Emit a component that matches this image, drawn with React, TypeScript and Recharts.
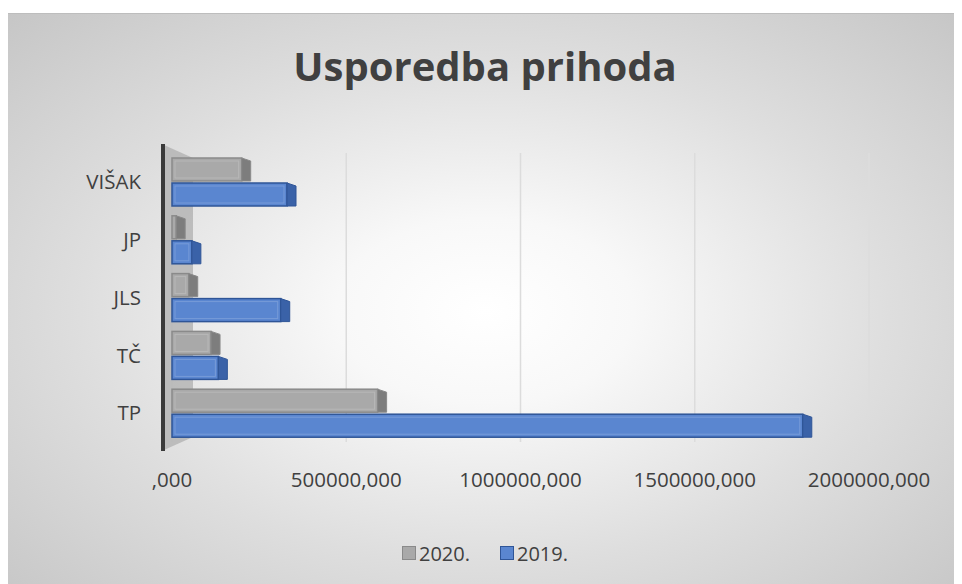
import React from "react";
import { BarChart, Bar, XAxis, YAxis, CartesianGrid, Legend, useOffset, useChartHeight } from "recharts";

// values
const categories = ["VIŠAK", "JP", "JLS", "TČ", "TP"];
const values2020 = [200000, 12000, 48000, 112000, 590000];
const values2019 = [330000, 57000, 312000, 133000, 1810000];
const xTicks = [0, 500000, 1000000, 1500000, 2000000];
const seriesNames = ["2020.", "2019."];

const data = categories.map((name, i) => ({
  name,
  y2020: values2020[i],
  y2019: values2019[i],
}));

const FONT = "'Open Sans', sans-serif";
const TEXT = "#404040";

const GRAY = { front: "#a9a9a9", side: "#7d7d7d", edge: "#8a8a8a" };
const BLUE = { front: "#5a86d0", side: "#3a62a8", edge: "#2f5597" };

const fmt = (v: number) => (v === 0 ? ",000" : `${v},000`);

function Bar3D(props: any) {
  const { x, y, width, height, front, side, edge } = props;
  if (width == null || height == null) return null;
  const w = Math.max(width, 0);
  const d = 9;
  return (
    <g>
      <rect x={x} y={y} width={w} height={height} fill={front} stroke={edge} strokeWidth={1.5} />
      <rect
        x={x + 3}
        y={y + 3}
        width={Math.max(w - 6, 0)}
        height={Math.max(height - 6, 0)}
        fill="none"
        stroke="rgba(255,255,255,0.18)"
        strokeWidth={1}
      />
      <polygon
        points={`${x + w},${y} ${x + w + d},${y + 3} ${x + w + d},${y + height} ${x + w},${y + height}`}
        fill={side}
        stroke={edge}
        strokeWidth={1}
      />
    </g>
  );
}

// the grey side wall of the excel 3d chart
function Wall() {
  const off: any = useOffset();
  const h = useChartHeight();
  if (!off || !h) return null;
  const x0 = off.left;
  const top = off.top;
  const bottom = h - off.bottom;
  return (
    <g>
      <polygon
        points={`${x0},${top - 8} ${x0 + 29},${top + 5} ${x0 + 29},${bottom - 5} ${x0},${bottom + 8}`}
        fill="#b5b5b5"
        opacity={0.85}
      />
      <line x1={x0 - 1} y1={top - 9} x2={x0 - 1} y2={bottom + 9} stroke="#3a3a3a" strokeWidth={4} />
    </g>
  );
}

function LegendBox() {
  const items = [
    { label: seriesNames[0], c: GRAY },
    { label: seriesNames[1], c: BLUE },
  ];
  return (
    <div
      style={{
        display: "flex",
        justifyContent: "center",
        alignItems: "center",
        height: 24,
        fontFamily: FONT,
        fontSize: 20,
        color: TEXT,
        gap: 30,
      }}
    >
      {items.map((it) => (
        <div key={it.label} style={{ display: "flex", alignItems: "center" }}>
          <span
            style={{
              display: "inline-block",
              width: 12,
              height: 12,
              background: it.c.front,
              border: `1.5px solid ${it.c.edge}`,
              marginRight: 3,
            }}
          />
          <span>{it.label}</span>
        </div>
      ))}
    </div>
  );
}

export default function App() {
  return (
    <div
      style={{
        position: "relative",
        width: 954,
        height: 571,
        marginTop: 5,
        borderTop: "1px solid #bdbdbd",
        background:
          "radial-gradient(ellipse farthest-corner at 50% 52%, #ffffff 0%, #f8f8f8 22%, #dedede 60%, #c6c6c6 100%)",
      }}
    >
      <div
        style={{
          position: "absolute",
          top: 24,
          left: 0,
          width: 954,
          textAlign: "center",
          fontFamily: FONT,
          fontWeight: 700,
          fontSize: 40,
          color: TEXT,
          lineHeight: "56px",
        }}
      >
        Usporedba prihoda
      </div>
      <BarChart
        width={954}
        height={570}
        data={data}
        layout="vertical"
        margin={{ top: 139, right: 93, left: 0, bottom: 19 }}
        barSize={23}
        barGap={2}
      >
        <CartesianGrid horizontal={false} vertical stroke="#dcdcdc" strokeWidth={1.5} />
        <XAxis
          type="number"
          domain={[0, 2000000]}
          ticks={xTicks}
          tickFormatter={fmt}
          axisLine={false}
          tickLine={false}
          tickSize={0}
          tickMargin={30}
          height={99}
          padding={{ left: 8, right: 0 }}
          interval={0}
          tick={{ fill: TEXT, fontSize: 20.5, fontFamily: FONT }}
        />
        <YAxis
          type="category"
          dataKey="name"
          width={156}
          axisLine={false}
          tickLine={false}
          tickSize={0}
          tickMargin={23}
          tick={{ fill: TEXT, fontSize: 20.5, fontFamily: FONT }}
        />
        <Wall />
        <Bar
          dataKey="y2020"
          name={seriesNames[0]}
          isAnimationActive={false}
          shape={(p: any) => <Bar3D {...p} {...GRAY} />}
        />
        <Bar
          dataKey="y2019"
          name={seriesNames[1]}
          isAnimationActive={false}
          shape={(p: any) => <Bar3D {...p} {...BLUE} />}
        />
        <Legend
          verticalAlign="bottom"
          height={24}
          wrapperStyle={{ left: 0, width: 954 }}
          content={() => <LegendBox />}
        />
      </BarChart>
    </div>
  );
}
